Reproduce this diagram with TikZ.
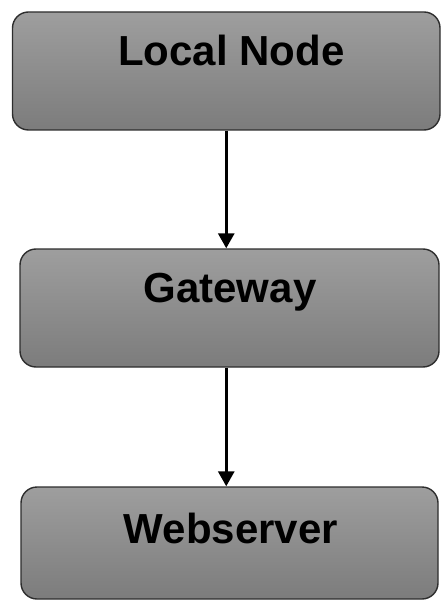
\documentclass[tikz,border=0pt]{standalone}
\usepackage{fontspec}
\setmainfont{Liberation Sans}
\usetikzlibrary{arrows.meta}
\definecolor{boxtop}{RGB}{158,158,158}
\definecolor{boxbottom}{RGB}{124,124,124}
\definecolor{boxline}{RGB}{45,45,45}
\tikzset{
  procbox/.style={draw=boxline, line width=1.4pt, rounded corners=16pt,
    top color=boxtop, bottom color=boxbottom, inner sep=0pt},
  boxtext/.style={anchor=base, inner sep=0pt,
    font=\fontsize{42}{48}\selectfont\bfseries},
  flow/.style={line width=3pt, -{Triangle[length=15pt,width=16pt]}}
}
\begin{document}
\begin{tikzpicture}[x=1pt,y=-1pt]
  \useasboundingbox (0,0) rectangle (443,601);
  % three stacked boxes
  \node[procbox, minimum width=427.5pt, minimum height=118pt] (local) at (226.25,71) {};
  \node[procbox, minimum width=419pt, minimum height=118pt] (gw) at (229.5,308) {};
  \node[procbox, minimum width=417pt, minimum height=112pt] (web) at (229.5,543) {};
  % captions sit in the upper half of each box
  \node[boxtext] (localtxt) at (231.5,66) {Local Node};
  \node[boxtext] (gwtxt) at (230,302) {Gateway};
  \node[boxtext] (webtxt) at (231,543) {Webserver};
  % connectors
  \draw[flow] (local.south) -- (local.south |- gw.north);
  \draw[flow] (local.south |- gw.south) -- (local.south |- web.north);
\end{tikzpicture}
\end{document}
